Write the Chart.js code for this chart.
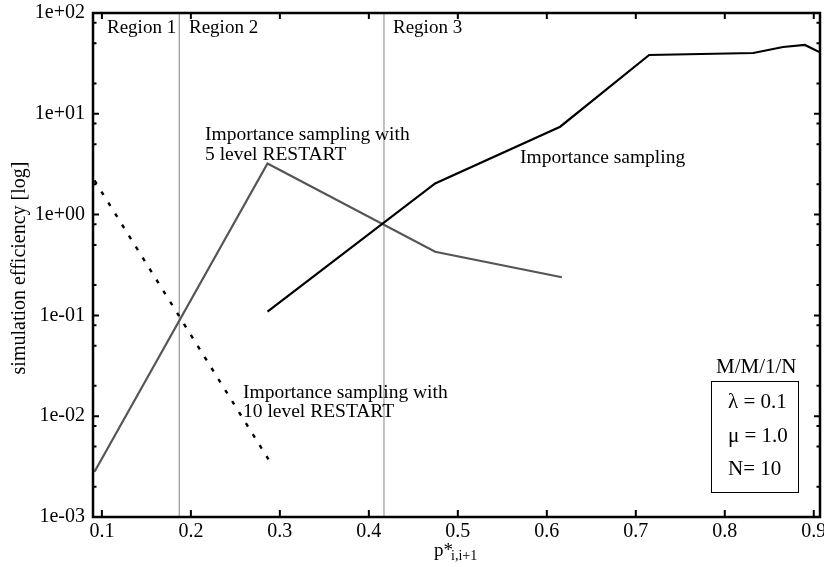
<!DOCTYPE html>
<html>
<head>
<meta charset="utf-8">
<script src="https://cdn.jsdelivr.net/npm/chart.js@4.4.0/dist/chart.umd.min.js"></script>
<style>
  html, body { margin: 0; padding: 0; background: #fff; }
</style>
</head>
<body>
<canvas id="chart" width="824" height="567"></canvas>
<script>
// values (x = p*_{i,i+1}, y = simulation efficiency)
const isX = [0.2861, 0.4745, 0.615, 0.715, 0.832, 0.8655, 0.890, 0.91]
const isY = [0.109, 2.04, 7.45, 38.3, 40.1, 46.0, 48.2, 39.5]

const restart5X = [0.0917, 0.2861, 0.4745, 0.6169]
const restart5Y = [0.00281, 3.21, 0.428, 0.239]

const restart10X = [0.0917, 0.2872]
const restart10Y = [2.18, 0.00373]

const regionX = [0.187, 0.417]

const xTicks = [0.1, 0.2, 0.3, 0.4, 0.5, 0.6, 0.7, 0.8, 0.9]
const xTickLabels = ['0.1', '0.2', '0.3', '0.4', '0.5', '0.6', '0.7', '0.8', '0.9']
const yTicks = [0.001, 0.01, 0.1, 1, 10, 100]
const yTickLabels = ['1e-03', '1e-02', '1e-01', '1e+00', '1e+01', '1e+02']
const yMinor = [0.002, 0.005, 0.008, 0.02, 0.05, 0.08, 0.2, 0.5, 0.8, 2, 5, 8, 20, 50, 80]

const serif = "'Liberation Serif', 'Times New Roman', serif"

function pts(xs, ys) {
    return xs.map((x, i) => ({ x: x, y: ys[i] }))
}

const frame = {
    id: 'frame',
    afterDraw(chart) {
        const ctx = chart.ctx
        const a = chart.chartArea
        const x = chart.scales.x
        const y = chart.scales.y
        ctx.save()
        ctx.strokeStyle = '#000'
        ctx.lineWidth = 2
        ctx.beginPath()
        xTicks.forEach(v => {
            const px = x.getPixelForValue(v)
            ctx.moveTo(px, a.bottom); ctx.lineTo(px, a.bottom - 7)
            ctx.moveTo(px, a.top); ctx.lineTo(px, a.top + 6)
        })
        yTicks.forEach(v => {
            const py = y.getPixelForValue(v)
            ctx.moveTo(a.left, py); ctx.lineTo(a.left + 6, py)
            ctx.moveTo(a.right, py); ctx.lineTo(a.right - 6, py)
        })
        yMinor.forEach(v => {
            const py = y.getPixelForValue(v)
            ctx.moveTo(a.left, py); ctx.lineTo(a.left + 3.5, py)
            ctx.moveTo(a.right, py); ctx.lineTo(a.right - 3.5, py)
        })
        ctx.stroke()

        ctx.lineWidth = 2.5
        ctx.strokeRect(a.left, a.top, a.width, a.height)

        // annotations
        ctx.fillStyle = '#000'
        ctx.textBaseline = 'alphabetic'
        ctx.textAlign = 'left'
        ctx.font = '19px ' + serif
        ctx.fillText('Region 1', 107, 33)
        ctx.fillText('Region 2', 189, 33)
        ctx.fillText('Region 3', 393, 33)
        ctx.font = '19.5px ' + serif
        ctx.fillText('Importance sampling with', 205, 140)
        ctx.fillText('5 level RESTART', 205, 160)
        ctx.fillText('Importance sampling with', 243, 398)
        ctx.fillText('10 level RESTART', 243, 416.5)
        ctx.fillText('Importance sampling', 520, 163)

        ctx.font = '21px ' + serif
        ctx.fillText('M/M/1/N', 716, 373)
        ctx.fillText('\u03bb = 0.1', 728, 408)
        ctx.fillText('\u03bc = 1.0', 728, 442)
        ctx.fillText('N= 10', 728, 475)
        ctx.lineWidth = 1
        ctx.strokeRect(711.5, 381.5, 87, 111)

        // axis titles
        ctx.font = '19px ' + serif
        ctx.fillText('p*', 434, 556)
        const w = ctx.measureText('p*').width
        ctx.font = '14px ' + serif
        ctx.fillText('i,i+1', 434 + w - 2, 560)

        ctx.translate(25, 268)
        ctx.rotate(-Math.PI / 2)
        ctx.textAlign = 'center'
        ctx.font = '20px ' + serif
        ctx.fillText('simulation efficiency [log]', 0, 0)
        ctx.restore()
    }
}

new Chart(document.getElementById('chart'), {
    type: 'scatter',
    data: {
        datasets: [
            {
                data: pts(isX, isY),
                showLine: true, borderColor: '#000', borderWidth: 2.2,
                pointRadius: 0, tension: 0
            },
            {
                data: pts(restart5X, restart5Y),
                showLine: true, borderColor: '#555', borderWidth: 2.2,
                pointRadius: 0, tension: 0
            },
            {
                data: pts(restart10X, restart10Y),
                showLine: true, borderColor: '#000', borderWidth: 2.4,
                borderDash: [4, 9], pointRadius: 0, tension: 0
            },
            {
                data: [{ x: regionX[0], y: 0.001 }, { x: regionX[0], y: 100 }],
                showLine: true, borderColor: '#999', borderWidth: 1.2, pointRadius: 0
            },
            {
                data: [{ x: regionX[1], y: 0.001 }, { x: regionX[1], y: 100 }],
                showLine: true, borderColor: '#999', borderWidth: 1.2, pointRadius: 0
            }
        ]
    },
    options: {
        responsive: false,
        devicePixelRatio: 1,
        animation: false,
        layout: { padding: { left: 0, top: 13, right: 4, bottom: 0 } },
        plugins: { legend: { display: false }, tooltip: { enabled: false } },
        scales: {
            x: {
                type: 'linear', min: 0.09, max: 0.907,
                grid: { display: false, drawTicks: false },
                border: { display: false },
                ticks: {
                    color: '#000', font: { family: serif, size: 20 }, padding: 3,
                    autoSkip: false, maxRotation: 0,
                    callback: (v, i) => xTickLabels[i]
                },
                afterBuildTicks: s => { s.ticks = xTicks.map(v => ({ value: v })) },
                afterFit: s => { s.height = 50; s.paddingLeft = 0; s.paddingRight = 0 }
            },
            y: {
                type: 'logarithmic', min: 0.001, max: 100,
                grid: { display: false, drawTicks: false },
                border: { display: false },
                ticks: {
                    color: '#000', font: { family: serif, size: 20 }, padding: 8,
                    autoSkip: false,
                    callback: (v, i) => yTickLabels[i]
                },
                afterBuildTicks: s => { s.ticks = yTicks.map(v => ({ value: v })) },
                afterFit: s => { s.width = 93; s.paddingTop = 0; s.paddingBottom = 0 }
            }
        }
    },
    plugins: [frame]
})
</script>
</body>
</html>
